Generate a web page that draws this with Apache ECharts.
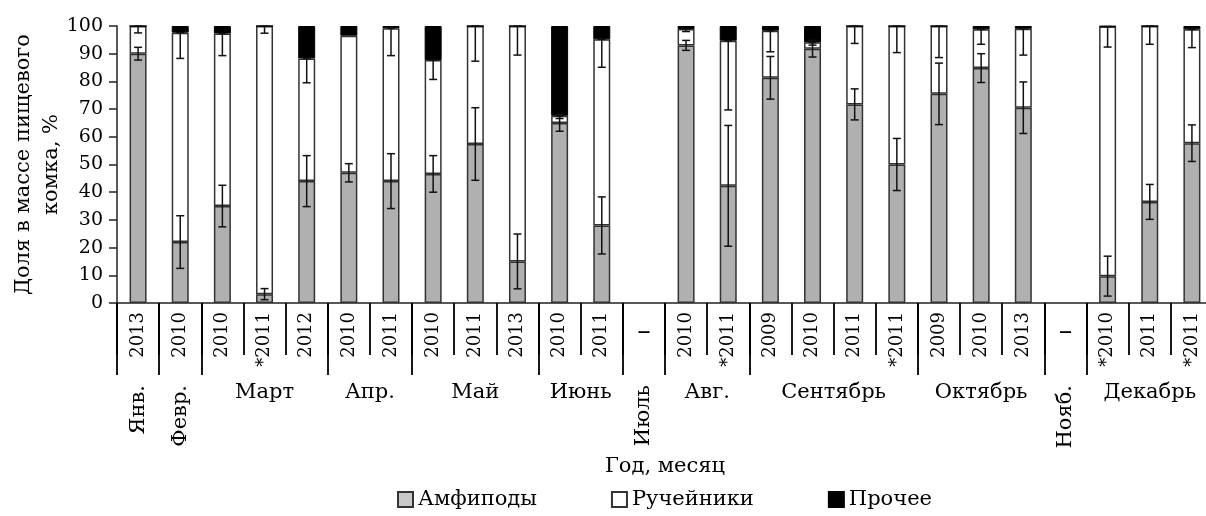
<!DOCTYPE html>
<html>
<head>
<meta charset="utf-8">
<script src="https://cdn.jsdelivr.net/npm/echarts@6/dist/echarts.min.js"></script>
<style>
html,body{margin:0;padding:0;background:#fff;}
#chart{width:1206px;height:516px;}
</style>
</head>
<body>
<div id="chart"></div>
<script>
// ---- Data ----
const years = ['2013','2010','2010','*2011','2012','2010','2011','2010','2011','2013','2010','2011','–','2010','*2011','2009','2010','2011','*2011','2009','2010','2013','–','*2010','2011','*2011'];
const monthNames = ['Янв.','Февр.','Март','Апр.','Май','Июнь','Июль','Авг.','Сентябрь','Октябрь','Нояб.','Декабрь'];
const monthStart = [0,1,2,5,7,10,12,13,15,19,22,23];
const monthVertical = [true,true,false,false,false,false,true,false,false,false,true,false];
const yTicks = [0,10,20,30,40,50,60,70,80,90,100];

const amph  = [90, 22, 35, 3.2, 44, 47, 44, 46.6, 57.4, 15, 65, 28, null, 93, 42.3, 81.3, 91.8, 71.7, 50, 75.5, 84.8, 70.5, null, 9.7, 36.5, 57.7];
const trich = [10, 75.6, 62.3, 96.8, 44.3, 49.5, 55.2, 41.1, 42.6, 85, 2.6, 67.2, null, 5.9, 52.4, 17, 2.3, 28.3, 50, 24.5, 14, 28.5, null, 90.1, 63.5, 41.1];
const other = [0, 2.4, 2.7, 0, 11.7, 3.5, 0.8, 12.3, 0, 0, 32.4, 4.8, null, 1.1, 5.3, 1.7, 5.9, 0, 0, 0, 1.2, 1, null, 0.2, 0, 1.2];
const amphErr  = [2.3, 9.5, 7.5, 2, 9.2, 3.3, 9.9, 6.6, 13.1, 9.9, 3, 10.3, null, 1.8, 21.8, 7.7, 3, 5.6, 9.4, 11.1, 5.2, 9.3, null, 7.2, 6.3, 6.6];
const trichErr = [2.5, 9.3, 8, 2.6, 8.8, 0, 9.9, 7, 12.7, 10.5, 1, 10.1, null, 0.9, 25, 7.6, 1, 6.3, 9.6, 11.4, 5.4, 9.5, null, 7.4, 6.6, 6.6];

// ---- Derived ----
const FONT = 'DejaVu Serif';
const N = years.length;
const halfH = new Array(2 * N + 1).fill('');
const halfV = new Array(2 * N + 1).fill('');
monthStart.forEach(function (s, i) {
  const e = i + 1 < monthStart.length ? monthStart[i + 1] : N;
  const j = s + e;
  if (monthVertical[i]) halfV[j] = monthNames[i]; else halfH[j] = monthNames[i];
});
const amphErrData = [], trichErrData = [];
for (let i = 0; i < N; i++) {
  if (amph[i] == null) continue;
  if (amphErr[i]) amphErrData.push([i, amph[i] - amphErr[i], amph[i] + amphErr[i]]);
  const top = amph[i] + trich[i];
  if (trichErr[i]) trichErrData.push([i, top - trichErr[i], top]);
}
function errRender(params, api) {
  const x = api.value(0);
  const lo = api.coord([x, api.value(1)]);
  const hi = api.coord([x, api.value(2)]);
  const hw = 4;
  const st = { stroke: '#111', lineWidth: 1.5 };
  return { type: 'group', children: [
    { type: 'line', shape: { x1: hi[0], y1: hi[1], x2: lo[0], y2: lo[1] }, style: st },
    { type: 'line', shape: { x1: hi[0] - hw, y1: hi[1], x2: hi[0] + hw, y2: hi[1] }, style: st },
    { type: 'line', shape: { x1: lo[0] - hw, y1: lo[1], x2: lo[0] + hw, y2: lo[1] }, style: st }
  ]};
}

const chart = echarts.init(document.getElementById('chart'));
const txt = { fontFamily: FONT, color: '#000' };
chart.setOption({
  animation: false,
  backgroundColor: '#fff',
  textStyle: { fontFamily: FONT, color: '#000' },
  grid: { left: 117, right: -7, top: 26, bottom: 213, containLabel: false, outerBoundsMode: 'none' },
  legend: {
    left: 392, bottom: 1, itemWidth: 15, itemHeight: 15, itemGap: 74, icon: 'rect',
    textStyle: Object.assign({ fontSize: 21 }, txt),
    data: [{ name: 'Амфиподы', itemStyle: { color: '#c8c8c8' } }, { name: 'Ручейники' }, { name: 'Прочее' }]
  },
  xAxis: [
    { type: 'category', data: years, position: 'bottom',
      name: 'Год, месяц', nameLocation: 'middle', nameGap: 153,
      nameTextStyle: Object.assign({ fontSize: 21 }, txt),
      axisLine: { lineStyle: { color: '#222', width: 1.5 } },
      axisTick: { show: true, interval: 0, length: 52, lineStyle: { color: '#000', width: 1.8 } },
      axisLabel: Object.assign({ interval: 0, rotate: 90, fontSize: 18, margin: 9,
        formatter: function (v) { return v === '–' ? '' : v; } }, txt) },
    { type: 'category', data: years, position: 'bottom',
      axisLine: { show: false },
      axisTick: { show: true, length: 72, lineStyle: { color: '#000', width: 1.8 },
        interval: function (i) { return monthStart.indexOf(i) >= 0; } },
      axisLabel: Object.assign({ interval: 0, fontSize: 27, margin: 16,
        formatter: function (v) { return v === '–' ? v : ''; } }, txt) },
    { type: 'category', data: halfH, boundaryGap: false, position: 'bottom',
      axisLine: { show: false }, axisTick: { show: false },
      axisLabel: Object.assign({ interval: 0, fontSize: 21, margin: 79 }, txt) },
    { type: 'category', data: halfV, boundaryGap: false, position: 'bottom',
      axisLine: { show: false }, axisTick: { show: false },
      axisLabel: Object.assign({ interval: 0, rotate: 90, fontSize: 21, margin: 82 }, txt) }
  ],
  yAxis: {
    type: 'value', min: 0, max: 100, interval: 10,
    name: 'Доля в массе пищевого\nкомка, %', nameLocation: 'middle', nameRotate: 90, nameGap: 51,
    nameMoveOverlap: false,
    nameTextStyle: Object.assign({ fontSize: 21, lineHeight: 28, align: 'center' }, txt),
    axisLine: { show: true, lineStyle: { color: '#222', width: 1.5 } },
    axisTick: { show: true, length: 8, lineStyle: { color: '#222', width: 1.5 } },
    splitLine: { show: false },
    axisLabel: Object.assign({ fontSize: 19, margin: 14,
      formatter: function (v) { return yTicks.indexOf(v) >= 0 ? String(v) : ''; } }, txt)
  },
  series: [
    { name: 'Амфиподы', type: 'bar', stack: 's', barWidth: 17, data: amph,
      itemStyle: { color: '#b0b0b0', borderColor: '#333', borderWidth: 1.5 } },
    { name: 'Ручейники', type: 'bar', stack: 's', barWidth: 17, data: trich,
      itemStyle: { color: '#fff', borderColor: '#333', borderWidth: 1.5 } },
    { name: 'Прочее', type: 'bar', stack: 's', barWidth: 17, data: other,
      itemStyle: { color: '#000', borderColor: '#000', borderWidth: 1 } },
    { name: 'errA', type: 'custom', renderItem: errRender, data: amphErrData, z: 10, silent: true },
    { name: 'errT', type: 'custom', renderItem: errRender, data: trichErrData, z: 10, silent: true }
  ]
});
</script>
</body>
</html>
